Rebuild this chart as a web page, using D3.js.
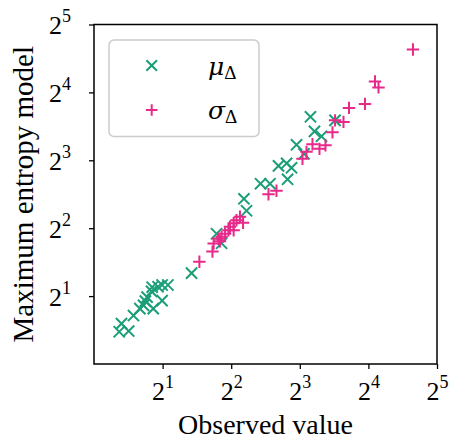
<!DOCTYPE html>
<html>
<head>
<meta charset="utf-8">
<script src="https://cdn.jsdelivr.net/npm/d3@7"></script>
<style>
  body { margin: 0; background: #fff; }
  svg { display: block; }
  text { font-family: "Liberation Serif", "Times New Roman", serif; fill: #000; }
</style>
</head>
<body>
<script>
// Data (log2 axes)
const muObserved = [1.29, 1.32, 1.42, 1.49, 1.59, 1.65, 1.68, 1.71, 1.79, 1.80, 1.91, 1.99, 2.11, 1.82, 1.99,
  2.68, 3.45, 3.63, 4.55, 4.67, 5.38, 5.92, 6.45, 7.00, 7.36, 7.07, 7.74, 8.35, 8.91, 9.28, 9.96, 11.42]
const muModel = [1.39, 1.51, 1.40, 1.64, 1.76, 1.82, 1.90, 1.98, 2.10, 2.19, 2.20, 2.24, 2.24, 1.76, 1.91,
  2.53, 3.78, 3.43, 5.40, 4.78, 6.30, 6.30, 7.56, 7.76, 7.41, 6.59, 9.37, 8.55, 12.47, 10.75, 10.22, 12.03]

const sigmaObserved = [2.90, 3.31, 3.35, 3.52, 3.63, 3.76, 3.89, 3.95, 4.10, 4.22, 4.37, 4.10, 4.51, 3.57,
  5.83, 6.32, 8.22, 8.56, 9.09, 9.76, 10.37, 11.13, 11.42, 12.44, 13.15, 15.46, 17.10, 17.72, 25.1]
const sigmaModel = [2.84, 3.15, 3.42, 3.59, 3.67, 3.78, 3.92, 4.06, 4.21, 4.34, 4.50, 3.92, 4.23, 3.50,
  5.66, 5.86, 8.12, 8.72, 9.42, 8.99, 9.32, 10.64, 12.03, 11.84, 13.66, 14.23, 17.90, 16.84, 24.8]

const tickExponents = [1, 2, 3, 4, 5]
const seriesNames = ["\u03bc", "\u03c3"]
const xLabel = "Observed value"
const yLabel = "Maximum entropy model"

// Layout
const W = 450, H = 441
const plot = { left: 94, right: 437, top: 24.5, bottom: 364 }
const green = "#1b9e77", pink = "#e7298a"

const x = d3.scaleLog().base(2).domain([1, 32]).range([plot.left, plot.right])
const y = d3.scaleLog().base(2).domain([1, 32]).range([plot.bottom, plot.top])

const svg = d3.select("body").append("svg")
  .attr("width", W)
  .attr("height", H)

// Axes
const xAxis = d3.axisBottom(x)
  .tickValues(tickExponents.map(e => 2 ** e))
  .tickSize(5).tickSizeOuter(0)
const gx = svg.append("g")
  .attr("transform", `translate(0, ${plot.bottom})`)
  .call(xAxis)

const yAxis = d3.axisLeft(y)
  .tickValues(tickExponents.map(e => 2 ** e))
  .tickSize(5).tickSizeOuter(0)
const gy = svg.append("g")
  .attr("transform", `translate(${plot.left}, 0)`)
  .call(yAxis)

// power-of-two labels with superscripts
;[gx, gy].forEach(g => {
  g.select(".domain").remove()
  g.selectAll(".tick line").attr("stroke", "#000").attr("stroke-width", 1.3)
  g.selectAll(".tick text").each(function (d) {
    const t = d3.select(this).text(null)
      .style("font-size", "26px")
      .attr("dy", null)
    t.append("tspan").text("2")
    t.append("tspan").text(Math.round(Math.log2(d)))
      .style("font-size", "18px")
      .attr("dy", -12)
  })
})
gx.selectAll(".tick text").attr("y", 36)
gy.selectAll(".tick text").attr("y", 9).attr("x", -23)

// frame
svg.append("rect")
  .attr("x", plot.left).attr("y", plot.top)
  .attr("width", plot.right - plot.left).attr("height", plot.bottom - plot.top)
  .attr("fill", "none").attr("stroke", "#000").attr("stroke-width", 1.5)

// axis titles
svg.append("text")
  .attr("x", (plot.left + plot.right) / 2).attr("y", 434)
  .attr("text-anchor", "middle")
  .style("font-size", "28px")
  .text(xLabel)

svg.append("text")
  .attr("transform", `translate(33, ${(plot.top + plot.bottom) / 2}) rotate(-90)`)
  .attr("text-anchor", "middle")
  .style("font-size", "29px")
  .text(yLabel)

// markers
const cross = s => `M${-s},${-s}L${s},${s}M${-s},${s}L${s},${-s}`
const plus = s => `M${-s},0L${s},0M0,${-s}L0,${s}`

const muData = muObserved.map((v, i) => ({ obs: v, model: muModel[i] }))
const sigmaData = sigmaObserved.map((v, i) => ({ obs: v, model: sigmaModel[i] }))

svg.append("g").selectAll("path")
  .data(muData)
  .enter()
  .append("path")
  .attr("transform", d => `translate(${x(d.obs)}, ${y(d.model)})`)
  .attr("d", cross(5.6))
  .attr("stroke", green)
  .attr("stroke-width", 2)
  .attr("fill", "none")

svg.append("g").selectAll("path")
  .data(sigmaData)
  .enter()
  .append("path")
  .attr("transform", d => `translate(${x(d.obs)}, ${y(d.model)})`)
  .attr("d", plus(6.2))
  .attr("stroke", pink)
  .attr("stroke-width", 2)
  .attr("fill", "none")

// Legend
const legend = svg.append("g")
legend.append("rect")
  .attr("x", 109).attr("y", 40)
  .attr("width", 150).attr("height", 96.5)
  .attr("rx", 5)
  .attr("fill", "#fff").attr("fill-opacity", 0.8)
  .attr("stroke", "#cccccc").attr("stroke-width", 1.5)

const legendItems = [
  { name: seriesNames[0], color: green, d: cross(5.3), cy: 65.5 },
  { name: seriesNames[1], color: pink, d: plus(5.8), cy: 110 }
]
legendItems.forEach(it => {
  legend.append("path")
    .attr("transform", `translate(151.7, ${it.cy})`)
    .attr("d", it.d)
    .attr("stroke", it.color)
    .attr("stroke-width", 2)
    .attr("fill", "none")
  const t = legend.append("text")
    .attr("x", 208).attr("y", it.cy + 9)
    .style("font-size", "28px")
  t.append("tspan").text(it.name).style("font-style", "italic")
    .style("font-family", "'DejaVu Serif', serif").style("font-size", "25px")
  t.append("tspan").text("\u0394").style("font-size", "19px").attr("dy", 4)
})
</script>
</body>
</html>
